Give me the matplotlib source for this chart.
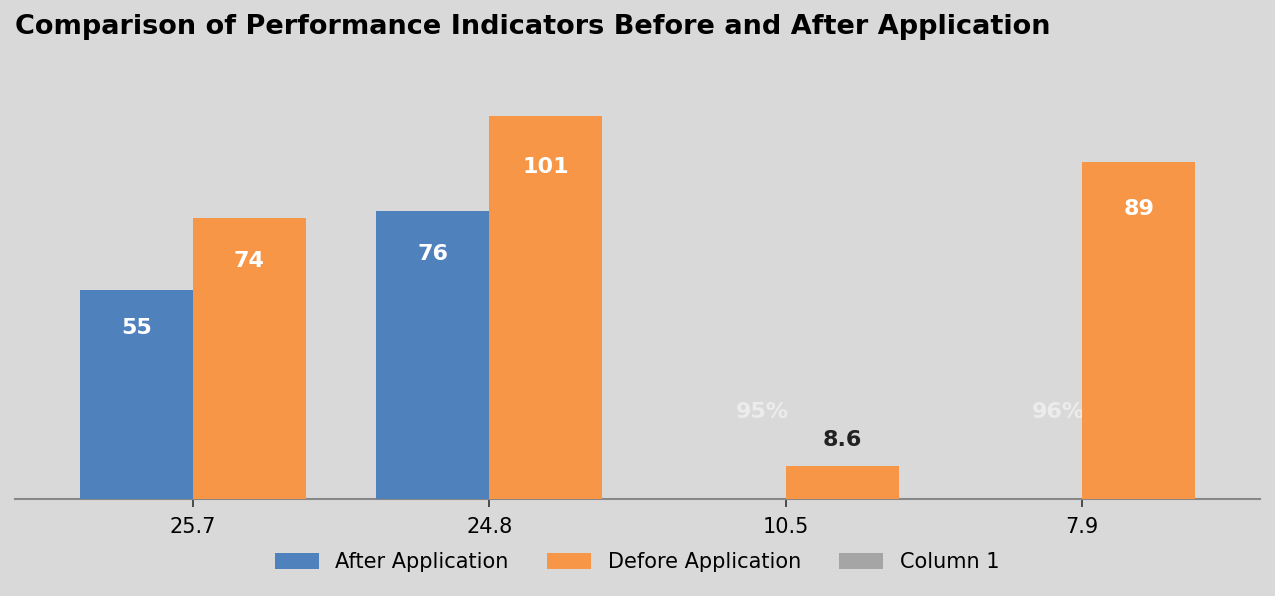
import numpy as np
import matplotlib
matplotlib.use('Agg')
import matplotlib.pyplot as plt

categories = ['25.7', '24.8', '10.5', '7.9']
after_vals = [55, 76, 0, 0]
before_vals = [74, 101, 8.6, 89]
column1_vals = [0, 0, 0, 0]
after_labels = ['55', '76', '95%', '96%']
before_labels = ['74', '101', '8.6', '89']

bg = '#d9d9d9'
blue = '#4f81bd'
orange = '#f79646'
gray = '#a5a5a5'

fig = plt.figure(figsize=(12.75, 5.96), dpi=100, facecolor=bg)
ax = fig.add_axes([15/1275, 1 - 499/596, 1245/1275, 436/596])
ax.set_facecolor(bg)

x = np.arange(len(categories))
w = 0.381
b1 = ax.bar(x - w/2, after_vals, w, color=blue, label='After Application', zorder=3)
b2 = ax.bar(x + w/2, before_vals, w, color=orange, label='Defore Application', zorder=3)
b3 = ax.bar(x, column1_vals, 0.001, color=gray, label='Column 1', zorder=1)

ax.set_xlim(-0.6, len(categories) - 0.4)
ax.set_ylim(0, 115)


def inside_y(v):
    # label sits a bit below the top of the bar
    return 0.92 * v - 5.4


for i, (v, lab) in enumerate(zip(after_vals, after_labels)):
    if v > 20:
        ax.text(x[i] - w/2, inside_y(v), lab, ha='center', va='center', color='white',
                fontsize=16, fontweight='bold', zorder=4)
    else:
        # faint percent labels sitting behind the bars
        ax.text(x[i] - 0.08, 23, lab, ha='center', va='center', color='#ececec',
                fontsize=16, fontweight='bold', zorder=2)
for i, (v, lab) in enumerate(zip(before_vals, before_labels)):
    if v > 20:
        ax.text(x[i] + w/2, inside_y(v), lab, ha='center', va='center', color='white',
                fontsize=16, fontweight='bold', zorder=4)
    else:
        ax.annotate(lab, (x[i] + w/2, v), xytext=(0, 19), textcoords='offset points',
                    ha='center', va='center', color='#222222', fontsize=16,
                    fontweight='bold', zorder=4)

ax.set_xticks(x)
ax.set_xticklabels(categories, fontsize=15)
ax.set_yticks([])
for s in ['top', 'left', 'right']:
    ax.spines[s].set_visible(False)
ax.spines['bottom'].set_color('#888888')
ax.spines['bottom'].set_linewidth(1.5)
ax.tick_params(axis='x', length=6, width=1.2, color='#333333', pad=7)

fig.text(15/1275, 1 - 27/596, 'Comparison of Performance Indicators Before and After Application',
         fontsize=19.5, fontweight='bold', ha='left', va='center')

fig.legend(handles=[b1, b2, b3], loc='center', bbox_to_anchor=(637/1275, 1 - 562/596),
           ncol=3, frameon=False, fontsize=15, handlelength=2.1, handleheight=0.8,
           columnspacing=1.85, handletextpad=0.8)

fig.savefig('out.png', dpi=100, facecolor=bg)
